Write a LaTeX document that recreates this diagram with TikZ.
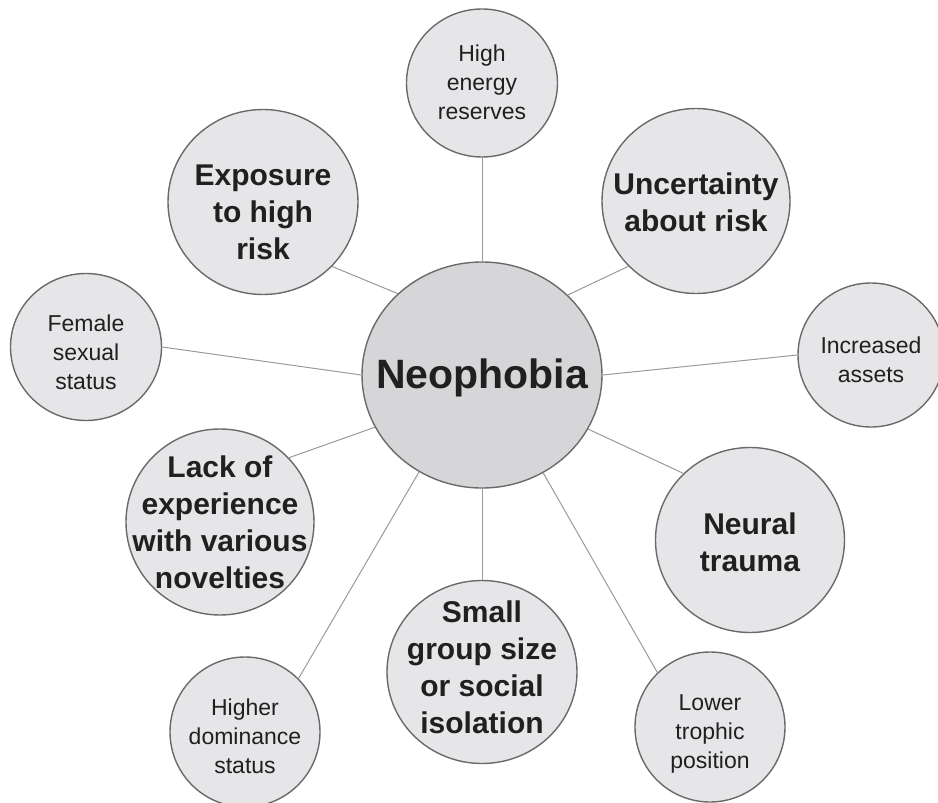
\documentclass[tikz,border=0pt]{standalone}
\usepackage{fontspec}
\setmainfont{Liberation Sans}
\usetikzlibrary{shapes.geometric}
\definecolor{ringfill}{HTML}{E6E6E9}
\definecolor{hubfill}{HTML}{D6D6D9}
\definecolor{ringline}{HTML}{6A6A6A}
\definecolor{linkline}{HTML}{9A9A9A}
\definecolor{txt}{HTML}{202020}
\tikzset{
  bubble/.style={ellipse, draw=ringline, line width=1.4pt, fill=ringfill, inner sep=0pt},
  hub/.style={bubble, fill=hubfill},
  bigtxt/.style={align=center, text=txt, font=\fontsize{30}{37}\selectfont\bfseries, inner sep=0pt},
  smalltxt/.style={align=center, text=txt, font=\fontsize{23}{29}\selectfont, inner sep=0pt},
  hubtxt/.style={align=center, text=txt, font=\fontsize{41}{48}\selectfont\bfseries, inner sep=0pt},
  link/.style={draw=linkline, line width=1pt}
}
\begin{document}
\begin{tikzpicture}[x=1pt,y=-1pt]
\useasboundingbox (0,0) rectangle (938,803);
% circles
\node[hub, minimum width=240pt, minimum height=226pt] (neo) at (482,375) {};
\node[bubble, minimum width=151pt, minimum height=148pt] (high) at (482,83) {};
\node[bubble, minimum width=188pt, minimum height=185pt] (unc) at (696,201) {};
\node[bubble, minimum width=190pt, minimum height=185pt] (exp) at (263,202) {};
\node[bubble, minimum width=151pt, minimum height=147pt] (fem) at (86,347) {};
\node[bubble, minimum width=146pt, minimum height=144pt] (inc) at (871,355) {};
\node[bubble, minimum width=188pt, minimum height=186pt] (lack) at (220,522) {};
\node[bubble, minimum width=150pt, minimum height=150pt] (dom) at (245,732) {};
\node[bubble, minimum width=190pt, minimum height=183pt] (small) at (482,672) {};
\node[bubble, minimum width=189pt, minimum height=185pt] (neural) at (750,540) {};
\node[bubble, minimum width=150pt, minimum height=150pt] (lower) at (710,727) {};
% connectors
\draw[link] (neo.90) -- (high.-90);
\draw[link] (neo.43) -- (unc.224);
\draw[link] (neo.136.4) -- (exp.-43.3);
\draw[link] (neo.180) -- (fem.0);
\draw[link] (neo.0) -- (inc.180);
\draw[link] (neo.206.8) -- (lack.43.7);
\draw[link] (neo.237.2) -- (dom.45.5);
\draw[link] (neo.-90) -- (small.90);
\draw[link] (neo.-58.9) -- (lower.134.5);
\draw[link] (neo.-27.4) -- (neural.135.4);
% texts (yshift is on the page: negative moves down)
\node[hubtxt] (neo-t) at ([yshift=-3pt]neo) {Neophobia};
\node[smalltxt] (high-t) at ([yshift=1pt]high) {High\\energy\\reserves};
\node[bigtxt] (unc-t) at ([yshift=-1pt]unc) {Uncertainty\\about risk};
\node[bigtxt] (exp-t) at ([yshift=-10pt]exp) {Exposure\\to high\\risk};
\node[smalltxt] (fem-t) at ([yshift=-5pt]fem) {Female\\sexual\\status};
\node[smalltxt] (inc-t) at ([yshift=-5pt]inc) {Increased\\assets};
\node[bigtxt] (lack-t) at (lack) {Lack of\\experience\\with various\\novelties};
\node[smalltxt] (dom-t) at ([yshift=-4pt]dom) {Higher\\dominance\\status};
\node[bigtxt] (small-t) at ([yshift=5pt]small) {Small\\group size\\or social\\isolation};
\node[bigtxt] (neural-t) at ([yshift=-2pt]neural) {Neural\\trauma};
\node[smalltxt] (lower-t) at ([yshift=-7pt]lower) {Lower\\trophic\\position};
\end{tikzpicture}
\end{document}
